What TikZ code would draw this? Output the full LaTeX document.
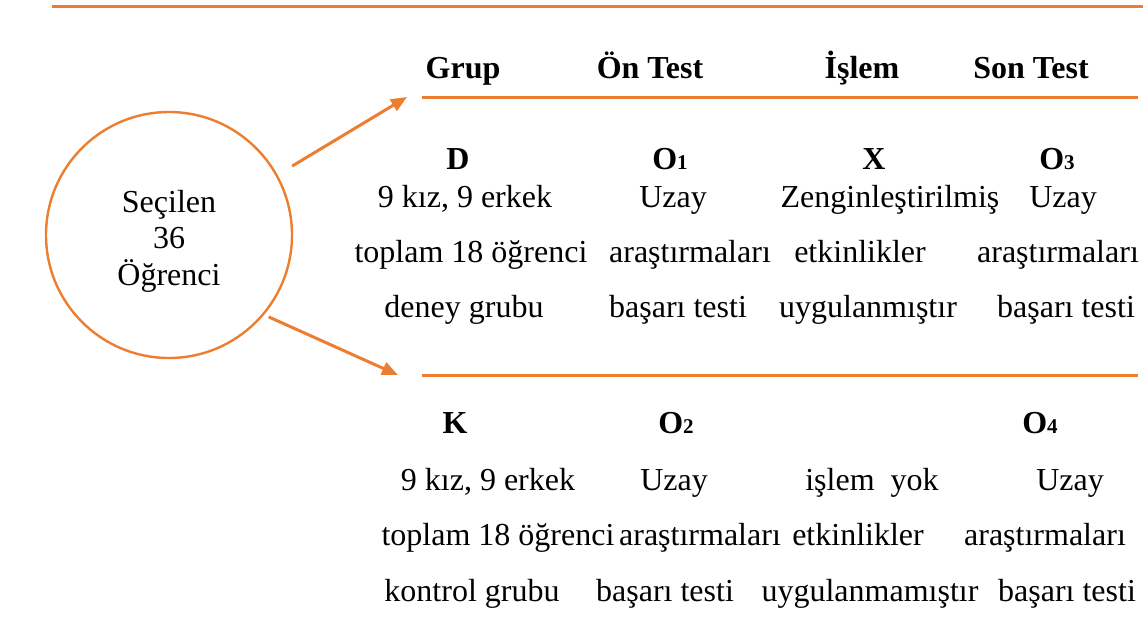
\documentclass[tikz,border=0pt]{standalone}
\usepackage{fontspec}
\setmainfont{Liberation Serif}
\usetikzlibrary{arrows.meta}

\definecolor{lineorange}{RGB}{237,125,49}
\newcommand{\sub}[1]{{\fontsize{10.5}{12}\selectfont #1}}

\begin{document}
\begin{tikzpicture}[x=0.5pt,y=-0.5pt,
    txt/.style={anchor=base,inner sep=0pt,font=\fontsize{16}{19}\selectfont},
    hd/.style={txt,font=\fontsize{16}{19}\selectfont\bfseries},
    rule/.style={lineorange,line width=1.5pt},
    link/.style={lineorange,line width=1.5pt,-{Triangle[length=8pt,width=6.5pt]}}]
  \useasboundingbox (0,0) rectangle (1143,623);

  %% Rules
  \draw[rule] (52,6) -- (1143,6);
  \draw[rule] (422,97) -- (1138,97);
  \draw[rule] (422,375) -- (1138,375);

  %% Sample
  \node[draw=lineorange,line width=1.2pt,circle,minimum size=123pt,inner sep=0pt]
    (sample) at (169,235) {};
  \node[txt] (secilen) at (169,212) {Seçilen};
  \node[txt] (sayi) at (169,248) {36};
  \node[txt] (ogrenci) at (169,285) {Öğrenci};

  \coordinate (upTip) at (407,97);
  \coordinate (lowTip) at (398,375);
  \draw[link,shorten <=8.5pt] (sample.29) -- (upTip);
  \draw[link,shorten <=2.5pt] (sample.-40) -- (lowTip);

  %% Header
  \node[hd] (grup) at (463,78) {Grup};
  \node[hd] (ontest) at (650,78) {Ön Test};
  \node[hd] (islem) at (862,78) {İşlem};
  \node[hd] (sontest) at (1031,78) {Son Test};

  %% Deney grubu
  \node[hd] (dD) at (458,169) {D};
  \node[hd] (dO1) at (670,169) {O\sub{1}};
  \node[hd] (dX) at (874,169) {X};
  \node[hd] (dO3) at (1057,169) {O\sub{3}};

  \node[txt] (dKiz) at (465,207) {9 kız, 9 erkek};
  \node[txt] (dUzay1) at (673,207) {Uzay};
  \node[txt] (dZeng) at (890,207) {Zenginleştirilmiş};
  \node[txt] (dUzay2) at (1063,207) {Uzay};

  \node[txt] (dToplam) at (471,262) {toplam 18 öğrenci};
  \node[txt] (dArs1) at (690,262) {araştırmaları};
  \node[txt] (dEtk) at (860,262) {etkinlikler};
  \node[txt] (dArs2) at (1058,262) {araştırmaları};

  \node[txt] (dGrubu) at (464,317) {deney grubu};
  \node[txt] (dBas1) at (678,317) {başarı testi};
  \node[txt] (dUyg) at (868,317) {uygulanmıştır};
  \node[txt] (dBas2) at (1066,317) {başarı testi};

  %% Kontrol grubu
  \node[hd] (kK) at (455,433) {K};
  \node[hd] (kO2) at (676,433) {O\sub{2}};
  \node[hd] (kO4) at (1040,433) {O\sub{4}};

  \node[txt] (kKiz) at (488,490) {9 kız, 9 erkek};
  \node[txt] (kUzay1) at (674,490) {Uzay};
  \node[txt] (kYok) at (872,490) {işlem\ \ yok};
  \node[txt] (kUzay2) at (1070,490) {Uzay};

  \node[txt] (kToplam) at (498,545) {toplam 18 öğrenci};
  \node[txt] (kArs1) at (700,545) {araştırmaları};
  \node[txt] (kEtk) at (858,545) {etkinlikler};
  \node[txt] (kArs2) at (1045,545) {araştırmaları};

  \node[txt] (kGrubu) at (472,601) {kontrol grubu};
  \node[txt] (kBas1) at (665,601) {başarı testi};
  \node[txt] (kUyg) at (870,601) {uygulanmamıştır};
  \node[txt] (kBas2) at (1067,601) {başarı testi};

\end{tikzpicture}
\end{document}
